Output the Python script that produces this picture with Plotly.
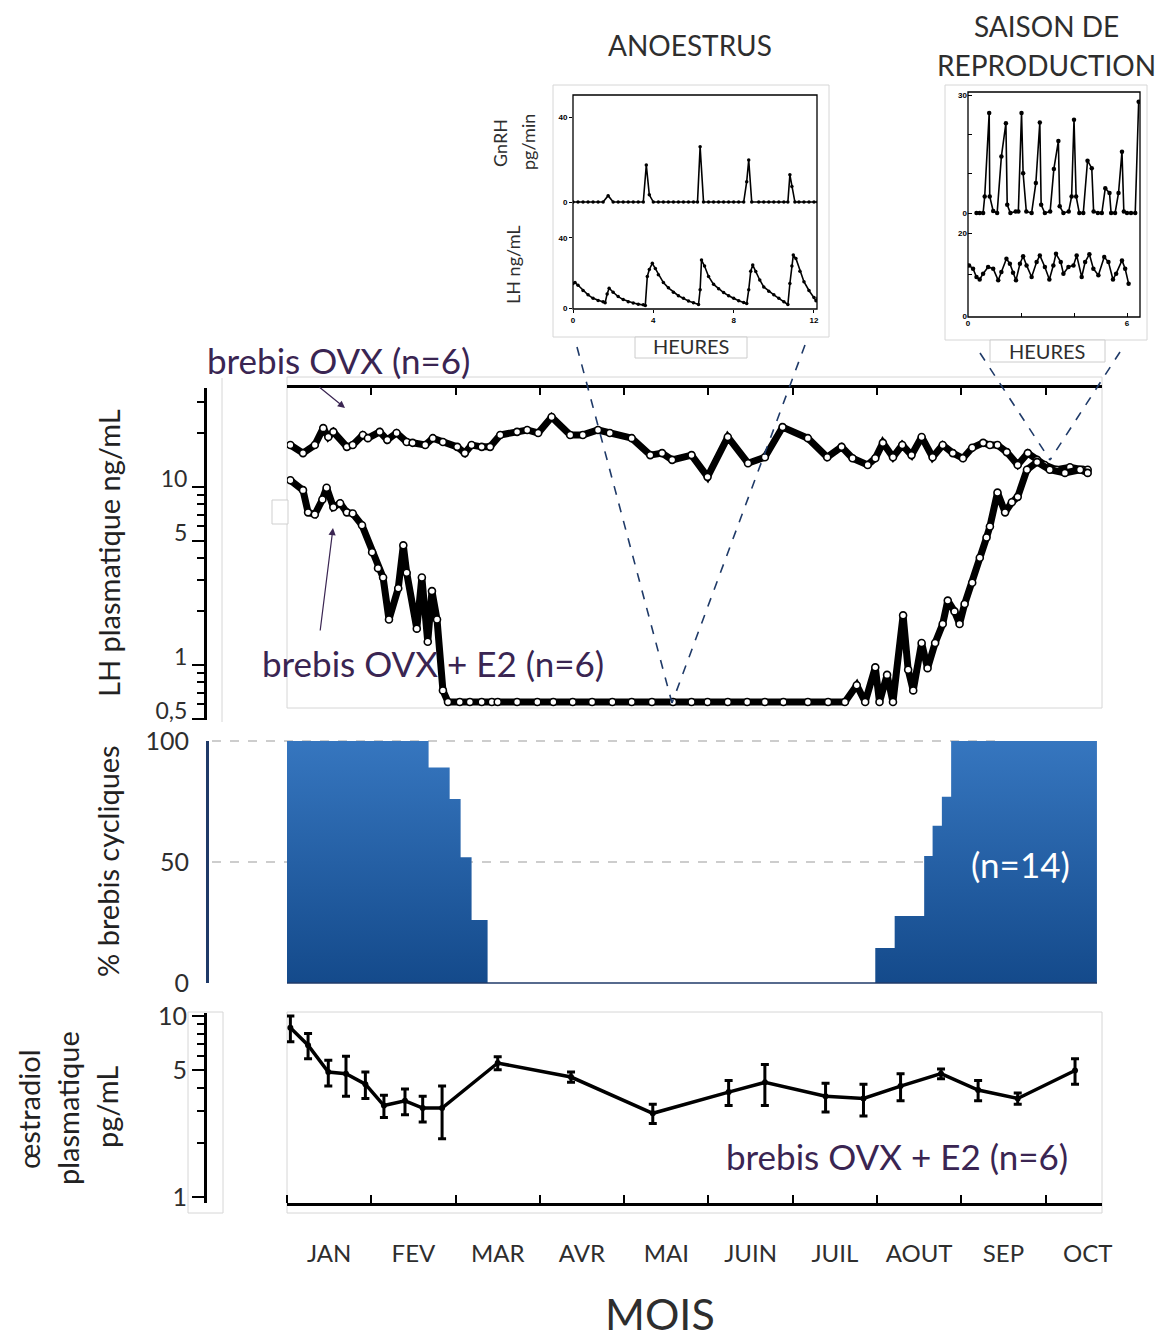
import plotly.graph_objects as go

W, H = 1162, 1342
def fx(p): return p / W
def fy(p): return 1 - p / H
def dom_x(a, b): return [fx(a), fx(b)]
def dom_y(top, bottom): return [fy(bottom), fy(top)]

FONT = "Lato"
DARK = "#2e2e2e"
PURPLE = "#3a2552"
NAVY = "#1f3a68"
LGRAY = "#d6d6d6"

# ---------------- data ----------------
months = ["JAN", "FEV", "MAR", "AVR", "MAI", "JUIN", "JUIL", "AOUT", "SEP", "OCT"]
month_centres = [0.5, 1.5, 2.5, 3.5, 4.5, 5.5, 6.5, 7.5, 8.5, 9.5]
month_bounds = [0, 1, 2, 3, 4, 5, 6, 7, 8, 9]

# LH plasmatique (ng/mL), brebis OVX
lh_ovx_t = [0.04, 0.19, 0.33, 0.43, 0.49, 0.55, 0.71, 0.78, 0.90, 0.96, 1.10, 1.19, 1.30, 1.42, 1.49,
            1.64, 1.73, 1.85, 2.02, 2.11, 2.19, 2.31, 2.41, 2.53, 2.73, 2.85, 2.98, 3.14, 3.36, 3.51,
            3.69, 3.83, 4.09, 4.31, 4.45, 4.57, 4.80, 4.99, 5.23, 5.47, 5.67, 5.88, 6.18, 6.41, 6.58,
            6.71, 6.89, 6.98, 7.07, 7.19, 7.30, 7.41, 7.53, 7.66, 7.78, 7.90, 8.02, 8.13, 8.26, 8.34,
            8.43, 8.54, 8.67, 8.79, 8.90, 8.99, 9.13, 9.29, 9.44, 9.50]
lh_ovx_v = [17.2, 15.5, 17.2, 21.4, 19.1, 20.4, 16.8, 17.2, 19.6, 18.8, 20.4, 18.4, 20.1, 17.9, 17.7,
            17.2, 18.8, 17.9, 16.8, 15.5, 17.2, 16.8, 16.8, 19.6, 20.4, 20.9, 20.1, 24.7, 19.6, 19.6,
            20.9, 20.1, 18.8, 15.1, 15.5, 14.2, 15.1, 11.4, 19.1, 13.6, 14.7, 21.7, 18.8, 14.7, 16.8,
            14.5, 13.3, 14.5, 17.7, 14.7, 17.2, 15.1, 19.1, 14.7, 17.2, 15.5, 14.5, 16.6, 17.7, 17.2,
            17.2, 15.7, 13.3, 15.5, 14.2, 13.3, 12.5, 12.9, 12.5, 12.5]

# LH plasmatique (ng/mL), brebis OVX + E2
lh_e2_t = [0.04, 0.19, 0.25, 0.33, 0.42, 0.47, 0.55, 0.63, 0.71, 0.78, 0.89, 1.01, 1.08, 1.14, 1.21,
           1.32, 1.38, 1.42, 1.54, 1.60, 1.67, 1.72, 1.78, 1.85, 1.91,
           2.05, 2.17, 2.31, 2.43, 2.50, 2.73, 2.97, 3.16, 3.39, 3.62, 3.86, 4.09, 4.33, 4.58, 4.80,
           4.99, 5.23, 5.46, 5.67, 5.89, 6.18, 6.42, 6.62,
           6.76, 6.86, 6.98, 7.03, 7.12, 7.19, 7.31, 7.37, 7.43, 7.53, 7.60, 7.69, 7.78, 7.84, 7.92,
           7.98, 8.04, 8.13, 8.22, 8.30, 8.34, 8.43, 8.52, 8.60, 8.67, 8.78, 8.90, 9.05, 9.23, 9.41, 9.50]
lh_e2_v = [10.9, 9.6, 7.2, 7.0, 8.5, 9.9, 7.7, 8.1, 7.2, 7.1, 6.1, 4.3, 3.5, 3.1, 1.8,
           2.7, 4.7, 3.3, 1.6, 3.1, 1.35, 2.6, 1.8, 0.72, 0.62,
           0.62, 0.62, 0.62, 0.62, 0.62, 0.62, 0.62, 0.62, 0.62, 0.62, 0.62, 0.62, 0.62, 0.62, 0.62,
           0.62, 0.62, 0.62, 0.62, 0.62, 0.62, 0.62, 0.62,
           0.77, 0.62, 0.97, 0.62, 0.88, 0.62, 1.9, 0.94, 0.72, 1.33, 0.96, 1.33, 1.7, 2.3, 2.0,
           1.7, 2.2, 2.9, 4.0, 5.2, 6.0, 9.3, 7.2, 8.2, 8.8, 12.5, 13.8, 12.5, 12.0, 12.5, 12.0]

# % brebis cycliques (n=14), step edges
cyc_left_t = [0.0, 1.68, 1.93, 2.06, 2.19, 2.38]
cyc_left_v = [100, 89, 76, 52, 26, 0]
cyc_right_t = [6.98, 7.21, 7.56, 7.66, 7.77, 7.88, 9.61]
cyc_right_v = [14.5, 27.7, 52.5, 65, 77, 100, 100]

# oestradiol plasmatique (pg/mL), brebis OVX + E2
e2_t = [0.04, 0.25, 0.49, 0.70, 0.93, 1.15, 1.40, 1.61, 1.84, 2.50, 3.37, 4.34, 5.24, 5.67, 6.39,
        6.84, 7.28, 7.76, 8.20, 8.67, 9.35]
e2_v = [8.6, 6.9, 4.9, 4.8, 4.2, 3.2, 3.4, 3.1, 3.1, 5.5, 4.6, 2.9, 3.8, 4.3, 3.6,
        3.5, 4.1, 4.8, 3.9, 3.5, 5.0]
e2_err = [1.4, 1.1, 0.8, 1.2, 0.7, 0.45, 0.55, 0.5, 1.0, 0.45, 0.3, 0.35, 0.6, 1.1, 0.65,
          0.7, 0.7, 0.3, 0.5, 0.25, 0.8]

# Inset ANOESTRUS (heures)
an_gnrh_t = [0, 0.25, 0.5, 0.75, 1.0, 1.25, 1.5, 1.75, 2.0, 2.25, 2.5, 2.75, 3.0, 3.25, 3.5, 3.65, 3.8,
             4.0, 4.25, 4.5, 4.75, 5.0, 5.25, 5.5, 5.75, 6.0, 6.2, 6.33, 6.5, 6.75, 7.0, 7.25, 7.5,
             7.75, 8.0, 8.25, 8.5, 8.65, 8.75, 8.9, 9.25, 9.5, 9.75, 10.0, 10.25, 10.5, 10.7, 10.8,
             10.9, 11.05, 11.25, 11.5, 11.75, 12.0, 12.2]
an_gnrh_v = [0, 0, 0, 0, 0, 0, 0, 3, 0, 0, 0, 0, 0, 0, 0, 17.4, 3.4,
             0, 0, 0, 0, 0, 0, 0, 0, 0, 0, 26, 0, 0, 0, 0, 0,
             0, 0, 0, 0, 9.6, 19.8, 0, 0, 0, 0, 0, 0, 0, 0, 12.8,
             7.3, 0, 0, 0, 0, 0, 0]
an_lh_t = [0.0, 0.1, 0.25, 0.5, 0.75, 1.0, 1.25, 1.5, 1.6, 1.7, 1.8, 2.0, 2.25, 2.5, 2.75, 3.0, 3.25,
           3.5, 3.6, 3.7, 3.8, 3.95, 4.1, 4.25, 4.5, 4.75, 5.0, 5.25, 5.5, 5.75, 6.0, 6.25, 6.33,
           6.4, 6.55, 6.75, 7.0, 7.25, 7.5, 7.75, 8.0, 8.25, 8.5, 8.65, 8.75, 8.85, 8.95, 9.1, 9.3,
           9.5, 9.75, 10.0, 10.25, 10.5, 10.7, 10.8, 10.9, 10.97, 11.1, 11.3, 11.5, 11.75, 12.0,
           12.1, 12.2]
an_lh_v = [14, 14.5, 13, 10, 7.5, 5.5, 4.3, 3.5, 3, 8, 11.3, 9, 6.5, 4.8, 3.6, 2.8, 2.2,
           1.8, 1.5, 18, 22, 25.5, 22.6, 19, 14.5, 11.5, 9, 7, 5.5, 4, 3, 2, 10.4,
           27.4, 24, 18, 13.5, 11, 8.8, 7, 5.5, 4.2, 3.2, 2.5, 10.4, 21, 24.5, 20.8, 16,
           12, 9.5, 7.5, 5.5, 3.5, 2, 14, 24, 30.2, 28.3, 21, 15, 10, 6,
           4.2, 5.7]

# Inset SAISON DE REPRODUCTION (heures)
re_gnrh_t = [0.32, 0.44, 0.57, 0.63, 0.80, 0.82, 0.95, 1.10, 1.26, 1.43, 1.48, 1.60, 1.80, 1.90,
             2.02, 2.08, 2.20, 2.40, 2.56, 2.71, 2.76, 2.90, 3.10, 3.24, 3.41, 3.46, 3.60, 3.80,
             3.91, 4.00, 4.08, 4.20, 4.35, 4.51, 4.67, 4.74, 4.90, 5.05, 5.18, 5.34, 5.40, 5.55,
             5.68, 5.81, 5.88, 6.00, 6.15, 6.31, 6.44]
re_gnrh_v = [0, 0, 0, 4.2, 25.4, 4.2, 0.5, 0, 14.4, 22.8, 2.1, 0, 0.4, 0.4,
             25.4, 10.1, 0.4, 0, 7.6, 23.0, 2.1, 0, 0.4, 11.2, 18.3, 1.7, 0, 0.4,
             4.2, 23.7, 4.2, 0, 0, 13.3, 11.4, 0.4, 0, 0, 6.3, 5.1, 0, 0,
             5.1, 15.6, 0.4, 0, 0, 0, 28.3]
re_lh_t = [0.04, 0.19, 0.32, 0.44, 0.57, 0.76, 0.95, 1.14, 1.26, 1.45, 1.58, 1.70, 1.81, 1.96,
           2.08, 2.21, 2.40, 2.59, 2.71, 2.90, 3.07, 3.22, 3.32, 3.50, 3.60, 3.79, 3.98, 4.10,
           4.29, 4.42, 4.58, 4.73, 4.92, 5.14, 5.30, 5.47, 5.59, 5.81, 5.93, 6.06]
re_lh_v = [12.2, 11.4, 9.4, 8.8, 10.2, 11.8, 11.4, 8.6, 10.6, 13.8, 12.6, 10.4, 8.6, 12.6,
           14.4, 12.2, 9.4, 13.0, 14.6, 11.8, 8.8, 12.2, 15.0, 13.0, 10.2, 11.8, 12.2, 14.6,
           9.4, 13.0, 14.9, 11.4, 9.8, 14.2, 13.0, 8.8, 10.2, 13.4, 11.4, 7.8]

# ---------------- figure ----------------
fig = go.Figure()

line_mk = dict(symbol="circle", size=7, color="white", line=dict(color="black", width=1.6))
fig.add_trace(go.Scatter(x=lh_ovx_t, y=lh_ovx_v, xaxis="x", yaxis="y", mode="lines+markers",
                         line=dict(color="black", width=7), marker=line_mk, hoverinfo="skip"))
fig.add_trace(go.Scatter(x=lh_e2_t, y=lh_e2_v, xaxis="x", yaxis="y", mode="lines+markers",
                         line=dict(color="black", width=7), marker=line_mk, hoverinfo="skip"))

grad = dict(type="vertical", colorscale=[[0, "#144a8b"], [1, "#3676bf"]])
for tt, vv in ((cyc_left_t, cyc_left_v), (cyc_right_t, cyc_right_v)):
    fig.add_trace(go.Scatter(x=tt, y=vv, xaxis="x2", yaxis="y2", mode="lines",
                             line=dict(shape="hv", width=0, color="#2a62a8"),
                             fill="tozeroy", fillgradient=grad, hoverinfo="skip"))

fig.add_trace(go.Scatter(x=e2_t, y=e2_v, xaxis="x3", yaxis="y3", mode="lines+markers",
                         line=dict(color="black", width=3.5),
                         marker=dict(size=6, color="black"),
                         error_y=dict(type="data", array=e2_err, color="black", thickness=3, width=4),
                         hoverinfo="skip"))

small_mk = dict(size=3.5, color="black")
fig.add_trace(go.Scatter(x=an_gnrh_t, y=an_gnrh_v, xaxis="x4", yaxis="y4", mode="lines+markers",
                         line=dict(color="black", width=1.6), marker=small_mk, hoverinfo="skip"))
fig.add_trace(go.Scatter(x=an_lh_t, y=an_lh_v, xaxis="x5", yaxis="y5", mode="lines+markers",
                         line=dict(color="black", width=1.6), marker=small_mk, hoverinfo="skip"))
fig.add_trace(go.Scatter(x=re_gnrh_t, y=re_gnrh_v, xaxis="x6", yaxis="y6", mode="lines+markers",
                         line=dict(color="black", width=1.6), marker=dict(size=4.5, color="black"),
                         hoverinfo="skip"))
fig.add_trace(go.Scatter(x=re_lh_t, y=re_lh_v, xaxis="x7", yaxis="y7", mode="lines+markers",
                         line=dict(color="black", width=1.6), marker=dict(size=4.5, color="black"),
                         hoverinfo="skip"))

MAIN_X = dom_x(287, 1102)
MAIN_RANGE = [0, 9.67]
base_ax = dict(showgrid=False, zeroline=False, automargin=False)
tick_font = dict(family=FONT, size=25, color=DARK)
inset_font = dict(family="Liberation Sans", size=8, color="black", weight="bold")

layout_axes = dict(
    xaxis=dict(base_ax, domain=MAIN_X, range=MAIN_RANGE, anchor="y", side="top",
               showline=True, linecolor="black", linewidth=2.5,
               tickmode="array", tickvals=month_bounds, ticks="inside", ticklen=7,
               tickwidth=2, tickcolor="black", showticklabels=False),
    yaxis=dict(base_ax, type="log", domain=dom_y(388, 720), range=[-0.309, 1.556],
               anchor="free", position=fx(205), showline=True, linecolor="black", linewidth=3,
               tickmode="array", tickvals=[0.5, 1, 5, 10], ticktext=["0,5", "1", "5", "10"],
               ticks="outside", ticklen=12, tickwidth=2, tickcolor="black",
               tickfont=dict(family=FONT, size=23, color=DARK), ticklabelshift=-8,
               minor=dict(tickmode="array", tickvals=[0.6, 0.7, 0.8, 0.9, 2, 3, 4, 6, 7, 8, 9, 20, 30],
                          ticks="outside", ticklen=7, tickwidth=1.5, tickcolor="black")),
    xaxis2=dict(base_ax, domain=MAIN_X, range=MAIN_RANGE, anchor="y2", visible=False),
    yaxis2=dict(base_ax, domain=dom_y(741, 983), range=[0, 100], anchor="free", position=fx(207),
                showline=True, linecolor=NAVY, linewidth=3, tickmode="array",
                tickvals=[0, 50, 100], ticks="", tickfont=tick_font, ticklabelstandoff=12),
    xaxis3=dict(base_ax, domain=MAIN_X, range=MAIN_RANGE, anchor="y3",
                showline=True, linecolor="black", linewidth=2.5,
                tickmode="array", tickvals=month_centres, ticktext=months, ticks="",
                tickfont=dict(family=FONT, size=24, color=DARK), ticklabelstandoff=27,
                minor=dict(tickmode="array", tickvals=month_bounds, ticks="inside", ticklen=8,
                           tickwidth=2, tickcolor="black")),
    yaxis3=dict(base_ax, type="log", domain=dom_y(1013, 1203), range=[-0.0331, 1.0166],
                anchor="free", position=fx(205), showline=True, linecolor="black", linewidth=3,
                tickmode="array", tickvals=[1, 5, 10], ticks="outside", ticklen=12, tickwidth=2,
                tickcolor="black", tickfont=tick_font,
                minor=dict(tickmode="array", tickvals=[2, 3, 4, 6, 7, 8, 9], ticks="outside",
                           ticklen=7, tickwidth=1.5, tickcolor="black")),
    xaxis4=dict(base_ax, domain=dom_x(573, 817), range=[0, 12.15], anchor="y4", visible=False),
    yaxis4=dict(base_ax, domain=dom_y(95, 225), range=[-10.8, 50.35], anchor="x4",
                tickmode="array", tickvals=[0, 40], ticks="outside", ticklen=3,
                tickcolor="black", tickfont=inset_font),
    xaxis5=dict(base_ax, domain=dom_x(573, 817), range=[0, 12.15], anchor="y5",
                tickmode="array", tickvals=[0, 4, 8, 12], ticks="outside", ticklen=3,
                tickcolor="black", tickfont=inset_font),
    yaxis5=dict(base_ax, domain=dom_y(225, 309), range=[-0.57, 47.4], anchor="x5",
                tickmode="array", tickvals=[0, 40], ticks="outside", ticklen=3,
                tickcolor="black", tickfont=inset_font),
    xaxis6=dict(base_ax, domain=dom_x(968, 1140), range=[0, 6.49], anchor="y6", visible=False),
    yaxis6=dict(base_ax, domain=dom_y(92, 225), range=[-3.05, 30.77], anchor="x6",
                tickmode="array", tickvals=[0, 10, 20, 30], ticktext=["0", "", "", "30"],
                ticks="inside", ticklen=4, tickcolor="black", tickfont=inset_font),
    xaxis7=dict(base_ax, domain=dom_x(968, 1140), range=[0, 6.49], anchor="y7",
                tickmode="array", tickvals=[0, 2, 4, 6], ticktext=["0", "", "", "6"],
                ticks="inside", ticklen=4, tickcolor="black", tickfont=inset_font),
    yaxis7=dict(base_ax, domain=dom_y(225, 317), range=[-0.24, 21.93], anchor="x7",
                tickmode="array", tickvals=[0, 10, 20], ticktext=["0", "", "20"],
                ticks="inside", ticklen=4, tickcolor="black", tickfont=inset_font),
)

shapes = []
def rect(x0, y0, x1, y1, color=LGRAY, width=1, fill=None, layer="below"):
    shapes.append(dict(type="rect", xref="paper", yref="paper", x0=fx(x0), x1=fx(x1),
                       y0=fy(y1), y1=fy(y0), line=dict(color=color, width=width),
                       fillcolor=fill if fill else "rgba(0,0,0,0)", layer=layer))
def seg(x0, y0, x1, y1, color, width=1, dash=None, layer="above"):
    shapes.append(dict(type="line", xref="paper", yref="paper", x0=fx(x0), x1=fx(x1),
                       y0=fy(y0), y1=fy(y1), line=dict(color=color, width=width, dash=dash),
                       layer=layer))

# panel frames
rect(287, 377, 1102, 708)
rect(272, 500, 288, 524, color="#cfcfcf", fill="white", layer="above")
seg(222, 378, 222, 722, LGRAY, 1, layer="below")
rect(287, 1012, 1102, 1213)
rect(188, 1012, 223, 1213)
# % panel gridlines and baseline
seg(212, 741, 1000, 741, "#bdbdbd", 1.5, "dash", layer="below")
seg(212, 862, 975, 862, "#bdbdbd", 1.5, "dash", layer="below")
seg(287, 983, 1097, 983, NAVY, 1.5, layer="above")
# insets
rect(553, 85, 829, 337)
rect(573, 95, 817, 309, color="black", width=1.3)
rect(635, 337, 747, 358, color="#cccccc", fill="white", layer="above")
rect(945, 85, 1147, 340)
rect(968, 92, 1140, 317, color="black", width=1.3)
rect(990, 340, 1105, 362, color="#cccccc", fill="white", layer="above")
# zoom lines
seg(577, 347, 672, 703, NAVY, 1.6, "dash")
seg(805, 345, 672, 703, NAVY, 1.6, "dash")
seg(980, 353, 1050, 460, NAVY, 1.6, "dash")
seg(1120, 352, 1050, 460, NAVY, 1.6, "dash")

annotations = []
def txt(s, x, y, size, color=DARK, angle=0, family=FONT):
    annotations.append(dict(text=s, xref="paper", yref="paper", x=fx(x), y=fy(y),
                            xanchor="center", yanchor="middle", showarrow=False,
                            textangle=angle, font=dict(family=family, size=size, color=color)))

txt("ANOESTRUS", 690, 45, 28)
txt("SAISON DE", 1046, 26, 28)
txt("REPRODUCTION", 1046, 65, 28)
txt("HEURES", 691, 346, 20)
txt("HEURES", 1047, 351, 20)
txt("GnRH", 500, 143, 18, angle=-90)
txt("pg/min", 528, 142, 18, angle=-90)
txt("LH ng/mL", 513, 265, 18, angle=-90)
txt("brebis OVX (n=6)", 338, 360, 35, PURPLE)
txt("brebis OVX + E2 (n=6)", 433, 663, 35, PURPLE)
txt("LH plasmatique ng/mL", 108, 553, 29, "#222222", -90)
txt("% brebis cycliques", 108, 861, 29, "#222222", -90)
txt("œstradiol", 28, 1109, 29, "#222222", -90)
txt("plasmatique", 67, 1108, 29, "#222222", -90)
txt("pg/mL", 106, 1107, 29, "#222222", -90)
txt("(n=14)", 1020, 864, 35, "white")
txt("brebis OVX + E2 (n=6)", 897, 1156, 35, PURPLE)
txt("MOIS", 660, 1313, 43)

# arrows
annotations.append(dict(text="", xref="paper", yref="paper", x=fx(345), y=fy(408),
                        ax=-27, ay=-22, showarrow=True, arrowhead=2, arrowsize=1.2,
                        arrowwidth=1.2, arrowcolor=PURPLE))
annotations.append(dict(text="", xref="paper", yref="paper", x=fx(333), y=fy(528),
                        ax=-13, ay=104, showarrow=True, arrowhead=2, arrowsize=1.2,
                        arrowwidth=1.2, arrowcolor=PURPLE))

fig.update_layout(
    width=W, height=H, autosize=False,
    margin=dict(l=0, r=0, t=0, b=0, pad=0, autoexpand=False),
    paper_bgcolor="white", plot_bgcolor="rgba(0,0,0,0)",
    showlegend=False, font=dict(family=FONT, color=DARK),
    shapes=shapes, annotations=annotations,
    **layout_axes,
)

fig.write_html("out.html", config={"displayModeBar": False})
